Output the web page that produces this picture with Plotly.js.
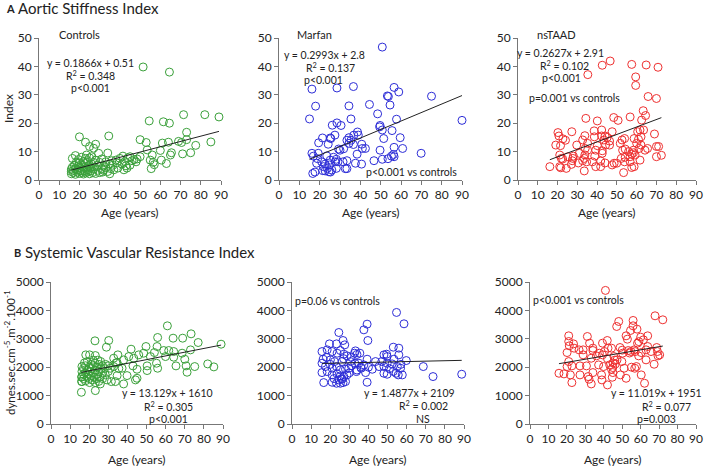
<!DOCTYPE html>
<html>
<head>
<meta charset="utf-8">
<script src="https://cdn.plot.ly/plotly-3.0.1.min.js"></script>
<style>
  html, body { margin: 0; padding: 0; background: #fff; overflow: hidden; }
  #chart { width: 709px; height: 466px; }
</style>
</head>
<body>
<div id="chart"></div>
<script>
// [age, value] pairs
const controlsStiffness = [
  [16,2.2],[16,3],[16,3.8],[16.5,4.5],[16.5,7.6],[17,2.6],[17,3.4],[17.5,5.2],[18,2],[18,4],[18,8.6],[18.5,6.3],
  [19,2.8],[19,3.6],[19.5,5],[19.5,7.2],[20,2.3],[20,4.4],[20,6],[20,15.2],[20.5,3.2],[21,2.7],[21,5.4],[21,8],
  [21.5,3.8],[22,2.1],[22,4.6],[22,6.5],[22.5,3.2],[23,2.5],[23,5.8],[23,7.6],[23,13.3],[23.5,4.2],[23.5,8.8],
  [24,2.8],[24,3.6],[24,6.8],[24.5,5],[25,2.2],[25,4.4],[25,7.8],[25,11.8],[25.5,3.2],[26,5.6],[26,8.2],[26.5,2.6],
  [27,3.8],[27,6.2],[27,11.2],[27.5,4.6],[28,2.3],[28,7],[28,12.6],[29,3.4],[29,5.2],[29.5,9.4],[30,2.6],[30,6.2],
  [31,4],[31,7.4],[31.5,2.8],[32,5],[32,3.4],[33,6.4],[33,4.4],[34,3],[34,9.5],[34.5,15.5],[35,2.2],[35,5.6],
  [35.5,4],[36,6.8],[36.5,5.2],[37,3.6],[38,7],[38.5,6],[39,4.2],[40,7.6],[41,5.6],[41.5,8.4],[42,3.6],[42.5,6.5],
  [43,5],[43.5,4.2],[44,7.8],[45,8.2],[45,5.2],[46,6.8],[47,7.2],[48,6.4],[48.5,7.4],[50,8.2],[50,14.2],[51.5,39.8],
  [53,13.2],[53.5,10.6],[54.5,20.8],[55,7],[55.5,4],[56,8.8],[56.5,6.2],[57,5.4],[60,10.4],[60.5,7],[61,13],
  [61.5,20.5],[63,5.8],[64,13.3],[64.5,20],[64.5,38],[65,8.8],[65.5,9.6],[69,13.6],[70.5,13.2],[71,9.2],[71.5,23],
  [73,14.2],[73,16.8],[75,9.6],[77.5,12.2],[82,23],[85,13.4],[89,22.2]
];

const marfanStiffness = [
  [50.8,46.8],[16.2,32],[28.5,32.4],[36.6,32.9],[56.6,32.6],[58.9,31],[53.3,29.6],[53.8,29.4],[75,29.5],[18,26],
  [34.4,26.1],[44.5,26.6],[54.6,26.4],[48.5,23.3],[15,21.5],[35.4,21.5],[57.8,21.4],[90,21],[26.2,19.3],[28.5,20.1],
  [30.5,19.2],[49.5,18.7],[49.7,19.2],[50.8,17.6],[55.6,17.4],[38.6,16.9],[39,15.8],[36.8,15.8],[27.5,15.8],
  [25.2,14.8],[21.4,14.8],[25.5,14.6],[34.4,14.9],[33.4,14],[35.4,14],[59.6,14.9],[51.5,14.6],[19.5,13.1],
  [24.2,12.6],[34.4,12.9],[36.6,12.5],[40.7,12.6],[42.5,11.1],[41,11.1],[56.6,11.5],[60.8,11.1],[29.3,10.9],
  [31.8,11],[30,10.5],[49.7,10.5],[16.2,9.4],[19.3,9.4],[16.9,8.4],[38.4,9.1],[69.9,9.4],[56.3,9],[55.3,8.4],
  [56.6,8.2],[19,7.5],[23.5,8.5],[26.8,8],[28.2,7.3],[29,6.4],[27.6,6.4],[31.5,6.4],[33.4,6.8],[50.8,7.3],
  [53.6,7.5],[46.7,6.8],[18.5,5.9],[21,6.4],[22.7,5.6],[25.2,7],[37.6,5.9],[40.6,5.6],[21.9,4.7],[23.8,4.1],
  [24.8,5.3],[26,3.5],[32.6,4],[33.4,4],[22.7,3.2],[24.5,2.9],[25.3,2.8],[21.5,3.3],[16.6,2.3],[17.7,2.8],[28.2,4.1]
];

const nstaadStiffness = [
  [46.6,41.9],[42.6,40.4],[57.5,40.7],[64.8,40.5],[70.8,39.7],[35.3,37.1],[59.5,36.3],[59.5,33.3],[65.8,29.4],
  [70,28.7],[63.3,24.4],[64.5,22.7],[34.3,21.7],[48.4,22],[56.7,22.2],[40.1,20.8],[50.6,21],[62.5,21.1],[20.2,16.7],
  [20.7,15.5],[24,14],[22.7,14.5],[27.2,17],[19.1,12.3],[21.5,12.1],[29.7,12.3],[21.1,8.8],[21.9,7.6],[22.6,7.4],
  [16.1,4.7],[21.1,4.7],[21.6,4.3],[24.4,4.1],[27.4,6.8],[28,8.4],[31,9.4],[27.7,7.6],[34,11.1],[35.2,12.9],
  [33.8,15.6],[38.5,17.3],[42.3,17.6],[47.6,17],[38.6,15.2],[42.3,15.5],[44,15.5],[43.4,14.1],[45.1,15],[46.3,13.7],
  [44.3,12.3],[46.3,12.3],[40.1,12.1],[39.3,10.5],[42.6,10.3],[35.2,10.5],[33.8,8.8],[33.5,7.6],[32.7,6.8],
  [34.7,6.4],[37.6,6.4],[41.8,6.7],[38.8,8.4],[42.6,9.4],[33.5,3.2],[39.3,4.7],[41.8,4.7],[48.6,5.9],[47.6,5.3],
  [49.9,5.9],[52.9,10.5],[52.6,14.1],[53.9,14.6],[51.7,12.9],[54.2,10.9],[55.9,10],[57.5,9.1],[58.4,9.6],[59.2,8.8],
  [58.4,10.5],[56.7,8.2],[58.7,14.6],[60.9,14.3],[62.2,15.2],[60,12.9],[62.2,12.3],[61.2,11.1],[64.2,10.5],
  [61.7,17.6],[63.5,17.6],[60.5,17],[52.2,7.6],[54.2,8],[53.9,6.4],[56.7,6.4],[58.7,4.7],[61.7,7],[53.4,2.6],
  [57.5,4.4],[65.5,11.1],[70,11.8],[71.1,11.8],[72.5,8.7],[70,8.2],[69,16.2],[25.2,8.2],[32.7,14.1],[27,5.5],
  [30.5,6],[44,6]
];

const controlsSvri = [
  [60.9,3457],[55.8,3046],[30.2,2940],[23,2928],[63.9,3022],[68.9,3022],[73.3,3175],[77,2869],[89,2810],[29,2705],
  [49.7,2728],[41.9,2634],[35,2434],[18.2,2434],[20.2,2434],[23.2,2410],[55.5,2728],[59,2587],[61.6,2587],
  [64.2,2552],[54.1,2516],[73,2610],[68.6,2493],[64.2,2352],[70,2281],[59.9,2375],[52,2375],[48.5,2493],
  [45.9,2434],[43.3,2316],[40.7,2375],[38,2257],[34.6,2164],[32.8,2316],[32.8,2023],[31,1964],[37.2,1964],
  [42.9,2046],[45,1928],[50.3,2046],[55.8,1964],[55.2,2140],[65.4,2046],[70.7,2046],[75.2,2023],[82,2116],
  [85.2,2011],[71.2,1823],[50.3,1882],[45,1611],[44.2,1552],[39.8,1705],[38,1411],[34.6,1705],[33.7,1493],
  [31.6,1493],[29.3,1552],[28.4,1729],[25.8,1411],[23.2,1458],[23.2,1176],[15.9,1117],[20.2,1458],[16.2,1493],
  [16.2,1670],[16.2,2023],[16.2,1846],
  [16,1500],[16,1650],[17,1600],[17,1750],[17,1950],[17.5,2150],[18,1520],[18,1800],[18,2050],[19,1650],[19,1900],
  [19,2200],[19.5,1750],[20,1600],[20,2000],[20.5,1850],[21,1700],[21,2100],[21,1950],[21.5,1550],[22,1800],
  [22,2050],[22,2250],[22.5,1650],[23,1900],[23,2150],[24,1600],[24,1750],[24,2000],[24.5,2250],[25,1500],
  [25,1850],[25,2100],[25.5,1650],[26,1950],[26,2200],[27,1600],[27,1800],[27,2050],[28,1950],[28.5,2100],
  [30,1850],[30,2050],[34,2150],[35.5,1950]
];

const marfanSvri = [
  [54.7,3928],[58.6,3528],[39.3,3516],[37.6,3316],[24.5,3222],[39.7,2940],[26.7,2940],[27.6,2787],[19.6,2822],
  [23.3,2822],[53,2705],[55.9,2670],[15.7,2550],[18.4,2611],[21,2552],[23.6,2493],[25.3,2587],[27.1,2458],
  [28.8,2399],[32.7,2493],[33.2,2575],[35.5,2493],[48.1,2434],[49.5,2458],[49.8,2375],[55.9,2434],[53.3,2281],
  [59.8,2234],[16.3,2281],[18,2350],[20.1,2258],[22.2,2199],[26.2,2199],[30.6,2199],[32.9,2140],[35,2140],
  [37.6,2081],[39.3,2281],[43.7,2199],[45.5,2023],[48.1,2023],[49.8,2140],[52.4,2116],[55.1,2023],[56.8,1964],
  [68.7,2023],[15.7,2140],[17.5,2023],[21,1964],[23.3,2023],[25.3,1905],[28,1928],[29.7,1964],[33.7,1846],
  [36.2,1964],[38.5,1811],[42,1928],[15.7,1811],[18.4,1846],[21,1729],[23.6,1764],[25.3,1693],[27.1,1670],
  [28.8,1729],[48.1,1787],[49.8,1752],[54.5,1787],[57.7,1729],[55.6,1729],[73.8,1670],[88.8,1752],[16.6,1458],
  [21,1470],[23.3,1435],[25.3,1435],[26.7,1458],[28,1493],[39.3,1470],[24.5,1552],[26.2,1576],[31,2350],
  [34,2450],[36,2000],[20,2100],[27,2300],[30,1800],[40,2000],[47,2200],[51,1950],[53,1850],[57,2100],[31,2050],
  [22,1600],[26,1600],[34,1900]
];

const nstaadSvri = [
  [40.9,4704],[67.8,3810],[72,3669],[48.1,3610],[47,3434],[55.9,3646],[55.9,3457],[58,3340],[54.5,3293],
  [31.1,3081],[21,3105],[52.1,3105],[63.8,3105],[60,3058],[61.5,2964],[58.3,2846],[52.8,2987],[21,2905],
  [23.6,2822],[21.3,2752],[32.3,2846],[41.9,2940],[39.3,2846],[48.8,2693],[42.3,2670],[44.2,2670],[63.8,2728],
  [68.7,2693],[23.9,2670],[26.6,2611],[28.8,2611],[34.1,2587],[37.6,2493],[40.4,2552],[34.1,2670],[53.3,2587],
  [54.7,2552],[56.5,2611],[60.3,2516],[62.9,2611],[65.6,2552],[69.1,2552],[69.4,2399],[70.3,2434],[58.9,2399],
  [50.2,2493],[20.1,2516],[28.8,2434],[33.2,2316],[39.3,2434],[45.5,2375],[47.2,2258],[49.8,2199],[62.9,2258],
  [21,2199],[22.7,2046],[20.1,2023],[27.1,2046],[30.6,2046],[37.2,2081],[39.9,2023],[43.2,2081],[44.9,1987],
  [46.3,2116],[44.2,1928],[51,1964],[57.7,2023],[56.8,1964],[67.3,2105],[15.7,1787],[18.4,1764],[21.9,1729],
  [27.1,1729],[34.1,1811],[38.8,1729],[44.9,1811],[49,1729],[60.3,1729],[22.7,1458],[32,1576],[33.2,1411],
  [42,1376],[44.6,1646],[52.1,1611],[62.1,1435],[39,1552],[31.5,1670],[45,2150],[54,2500],[57,2550],[50,2600],
  [36,2400],[42,2300],[59,2900],[46,2250],[55,2000]
];

// regression lines printed on the panels
const slopes = [0.1866, 0.2993, 0.2627, 13.129, 1.4877, 11.019];
const intercepts = [0.51, 2.8, 2.91, 1610, 2109, 1951];

const W = 709, H = 466;
const green = 'rgb(58,160,58)', blue = 'rgb(45,45,215)', red = 'rgb(238,48,48)';

// plot boxes in pixels: left, right, top, bottom
const panels = [
  { data: controlsStiffness, color: green, box: [39, 221, 38, 180], ymax: 50, dtick: 10 },
  { data: marfanStiffness,   color: blue,  box: [279, 462, 38, 180], ymax: 50, dtick: 10 },
  { data: nstaadStiffness,   color: red,   box: [518, 696, 38, 180], ymax: 50, dtick: 10 },
  { data: controlsSvri,      color: green, box: [51, 223, 282, 424], ymax: 5000, dtick: 1000 },
  { data: marfanSvri,        color: blue,  box: [292, 464, 282, 424], ymax: 5000, dtick: 1000 },
  { data: nstaadSvri,        color: red,   box: [530, 696, 282, 424], ymax: 5000, dtick: 1000 }
];

const font = 'Lato, "Open Sans", sans-serif';
const traces = [];
const layout = {
  width: W, height: H,
  margin: { l: 0, r: 0, t: 0, b: 0 },
  paper_bgcolor: '#fff', plot_bgcolor: '#fff',
  showlegend: false, hovermode: false,
  font: { family: font, size: 12, color: '#222' },
  annotations: []
};

panels.forEach((p, i) => {
  const n = i === 0 ? '' : String(i + 1);
  const xs = p.data.map(d => d[0]);
  const ys = p.data.map(d => d[1]);
  traces.push({
    x: xs, y: ys, type: 'scatter', mode: 'markers',
    xaxis: 'x' + n, yaxis: 'y' + n, cliponaxis: false,
    marker: { symbol: 'circle-open', size: 8, color: p.color, line: { width: 1, color: p.color } }
  });
  const x0 = Math.min(...xs), x1 = Math.max(...xs);
  traces.push({
    x: [x0, x1], y: [slopes[i] * x0 + intercepts[i], slopes[i] * x1 + intercepts[i]],
    type: 'scatter', mode: 'lines', xaxis: 'x' + n, yaxis: 'y' + n,
    line: { color: '#222', width: 1 }
  });
  const [l, r, t, b] = p.box;
  layout['xaxis' + n] = {
    domain: [l / W, r / W], anchor: 'y' + n, range: [0, 90], dtick: 10,
    showline: true, linecolor: '#777', linewidth: 1, ticks: 'outside', ticklen: 4, tickcolor: '#777',
    showgrid: false, zeroline: false, ticklabeloverflow: 'allow', tickfont: { size: 12, color: '#222' }
  };
  layout['yaxis' + n] = {
    domain: [1 - b / H, 1 - t / H], anchor: 'x' + n, range: [0, p.ymax], dtick: p.dtick,
    showline: true, linecolor: '#777', linewidth: 1, ticks: 'outside', ticklen: 4, tickcolor: '#777',
    showgrid: false, zeroline: false, tickfont: { size: 12, color: '#222' }
  };
  // x axis title
  layout.annotations.push({
    text: 'Age (years)', xref: 'paper', yref: 'paper', showarrow: false,
    x: (l + r) / 2 / W, y: 1 - (i < 3 ? 212 : 459) / H, xanchor: 'center', yanchor: 'middle',
    font: { size: 12 }
  });
});

// helper to place text by pixel
function note(text, px, py, opts) {
  layout.annotations.push(Object.assign({
    text: text, xref: 'paper', yref: 'paper', showarrow: false,
    x: px / W, y: 1 - py / H, xanchor: 'center', yanchor: 'middle',
    font: { size: 10.5, color: '#222' }
  }, opts || {}));
}

note('<b>A</b>', 10, 8, { font: { size: 11 } });
note('Aortic Stiffness Index', 16, 8, { xanchor: 'left', font: { size: 15 } });
note('<b>B</b>', 17, 252, { font: { size: 11 } });
note('Systemic Vascular Resistance Index', 23, 252, { xanchor: 'left', font: { size: 15 } });

note('Index', 9, 109, { textangle: -90, font: { size: 12 } });
note('dynes.sec.cm<sup>-5</sup>.m<sup>-2</sup>.100<sup>-1</sup>', 9, 353, { textangle: -90, font: { size: 11.5 } });

// panel labels and stats
note('Controls', 57, 35, { xanchor: 'left', font: { size: 11 } });
note('y = 0.1866x + 0.51', 90, 63);
note('R<sup>2</sup> = 0.348', 90, 75);
note('p<0.001', 90, 88);

note('Marfan', 295, 35, { xanchor: 'left', font: { size: 11 } });
note('y = 0.2993x + 2.8', 324, 55);
note('R<sup>2</sup> = 0.137', 330, 67);
note('p<0.001', 323, 80);
note('p<0.001 vs controls', 411, 172);

note('nsTAAD', 535, 35, { xanchor: 'left', font: { size: 11 } });
note('y = 0.2627x + 2.91', 560, 53);
note('R<sup>2</sup> = 0.102', 564, 65);
note('p<0.001', 561, 78);
note('p=0.001 vs controls', 574, 98);

note('y = 13.129x + 1610', 167, 393);
note('R<sup>2</sup> = 0.305', 168, 406);
note('p<0.001', 168, 419);

note('p=0.06 vs controls', 337, 301);
note('y = 1.4877x + 2109', 409, 393);
note('R<sup>2</sup> = 0.002', 424, 405);
note('NS', 423, 419);

note('p<0.001 vs controls', 578, 300);
note('y = 11.019x + 1951', 656, 393);
note('R<sup>2</sup> = 0.077', 666, 406);
note('p=0.003', 656, 419);

Plotly.newPlot('chart', traces, layout, { staticPlot: true, displayModeBar: false });
</script>
</body>
</html>
